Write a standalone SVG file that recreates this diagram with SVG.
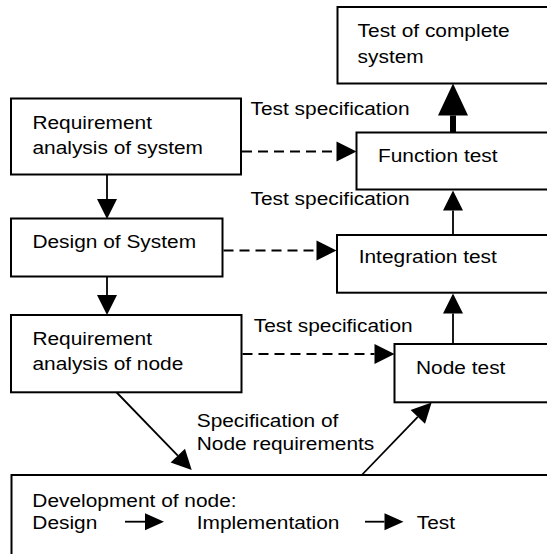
<svg xmlns="http://www.w3.org/2000/svg" width="547" height="554" viewBox="0 0 547 554">
<style>
  .box { fill: #ffffff; stroke: #000000; stroke-width: 2; }
  .lbl { font-family: "Liberation Sans", Arial, sans-serif; font-size: 18.5px; fill: #000000; }
  .ln { stroke: #000000; stroke-width: 1.8; fill: none; }
  .dash { stroke: #000000; stroke-width: 1.8; fill: none; stroke-dasharray: 10 6; }
  .thick { stroke: #000000; stroke-width: 6; fill: none; }
</style>
<defs>
  <marker id="ah" markerUnits="userSpaceOnUse" markerWidth="21" markerHeight="20" refX="0" refY="10" orient="auto" overflow="visible">
    <path d="M0,0 L20,10 L0,20 Z" fill="#000000" stroke="none"/>
  </marker>
  <marker id="ahs" markerUnits="userSpaceOnUse" markerWidth="19" markerHeight="17" refX="0" refY="8.5" orient="auto" overflow="visible">
    <path d="M0,0 L19,8.5 L0,17 Z" fill="#000000" stroke="none"/>
  </marker>
  <marker id="ahb" markerUnits="userSpaceOnUse" markerWidth="32" markerHeight="30" refX="0" refY="15" orient="auto" overflow="visible">
    <path d="M0,0 L32,15 L0,30 Z" fill="#000000" stroke="none"/>
  </marker>
</defs>
<rect x="0" y="0" width="547" height="554" fill="#ffffff"/>

<g id="test-complete">
  <rect class="box" x="337.5" y="7" width="260" height="76.5"/>
  <text class="lbl" transform="matrix(1.13 0 0 1 357.6 36.7)">Test of complete</text>
  <text class="lbl" transform="matrix(1.13 0 0 1 357.6 62.7)">system</text>
</g>

<g id="req-system">
  <rect class="box" x="11" y="98.5" width="230" height="76"/>
  <text class="lbl" transform="matrix(1.13 0 0 1 32.4 128.5)">Requirement</text>
  <text class="lbl" transform="matrix(1.13 0 0 1 32.4 153.5)">analysis of system</text>
</g>

<g id="function-test">
  <rect class="box" x="356.5" y="132.5" width="240" height="57"/>
  <text class="lbl" transform="matrix(1.13 0 0 1 378 162.3)">Function test</text>
</g>

<g id="design-system">
  <rect class="box" x="11" y="218.5" width="211.5" height="58"/>
  <text class="lbl" transform="matrix(1.13 0 0 1 32.4 248.3)">Design of System</text>
</g>

<g id="integration-test">
  <rect class="box" x="337" y="235" width="260" height="57.7"/>
  <text class="lbl" transform="matrix(1.13 0 0 1 358.7 263.3)">Integration test</text>
</g>

<g id="req-node">
  <rect class="box" x="11" y="315" width="230.5" height="77.3"/>
  <text class="lbl" transform="matrix(1.13 0 0 1 32.4 345)">Requirement</text>
  <text class="lbl" transform="matrix(1.13 0 0 1 32.4 370)">analysis of node</text>
</g>

<g id="node-test">
  <rect class="box" x="394.5" y="344" width="200" height="58.3"/>
  <text class="lbl" transform="matrix(1.13 0 0 1 416 374)">Node test</text>
</g>

<g id="dev-node">
  <rect class="box" x="11.5" y="475" width="600" height="120"/>
  <text class="lbl" transform="matrix(1.13 0 0 1 32.3 506.7)">Development of node:</text>
  <text class="lbl" transform="matrix(1.13 0 0 1 32.3 529.3)">Design</text>
  <text class="lbl" transform="matrix(1.13 0 0 1 196.7 529.3)">Implementation</text>
  <text class="lbl" transform="matrix(1.13 0 0 1 416.7 529.3)">Test</text>
</g>

<g id="connectors">
  <line class="dash" x1="242" y1="151.5" x2="336.5" y2="151.5" marker-end="url(#ah)"/>
  <line class="dash" x1="223.5" y1="250.5" x2="316.5" y2="250.5" marker-end="url(#ah)"/>
  <line class="dash" x1="242.5" y1="354" x2="374.5" y2="354" marker-end="url(#ah)"/>
  <line class="ln" x1="107" y1="175" x2="107" y2="199" marker-end="url(#ah)"/>
  <line class="ln" x1="107" y1="277" x2="107" y2="295" marker-end="url(#ah)"/>
  <line class="ln" x1="453" y1="235" x2="453" y2="210.5" marker-end="url(#ah)"/>
  <line class="ln" x1="453" y1="344" x2="453" y2="313.5" marker-end="url(#ah)"/>
  <line class="thick" x1="453" y1="132" x2="453" y2="115.5" marker-end="url(#ahb)"/>
  <line class="ln" x1="116.7" y1="392.5" x2="177.8" y2="455.6" marker-end="url(#ah)"/>
  <line class="ln" x1="361.8" y1="475" x2="417.8" y2="416.9" marker-end="url(#ah)"/>
  <line class="ln" x1="125" y1="521.7" x2="145" y2="521.7" marker-end="url(#ahs)"/>
  <line class="ln" x1="365" y1="521.7" x2="384.5" y2="521.7" marker-end="url(#ahs)"/>
  <text class="lbl" transform="matrix(1.13 0 0 1 250.5 115)">Test specification</text>
  <text class="lbl" transform="matrix(1.13 0 0 1 250.5 205)">Test specification</text>
  <text class="lbl" transform="matrix(1.13 0 0 1 253.7 331.7)">Test specification</text>
  <text class="lbl" transform="matrix(1.13 0 0 1 196.7 426.7)">Specification of</text>
  <text class="lbl" transform="matrix(1.13 0 0 1 196.7 450)">Node requirements</text>
</g>
</svg>
